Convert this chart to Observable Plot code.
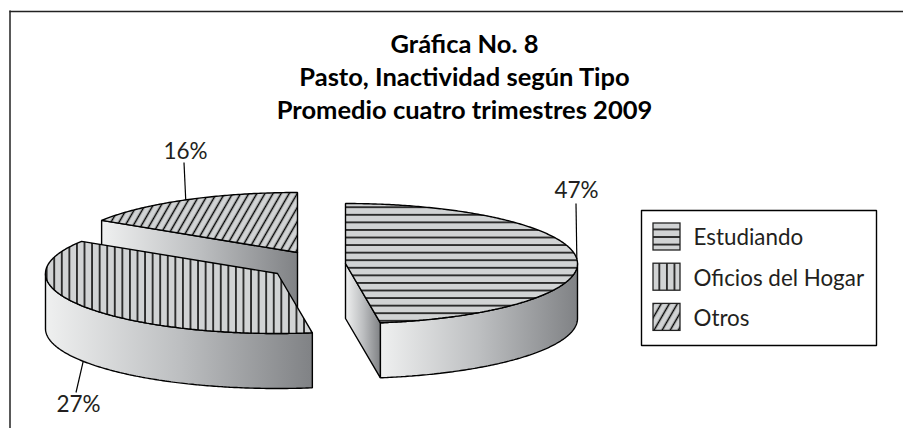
<!DOCTYPE html>
<html lang="es">
<head>
<meta charset="utf-8">
<style>html,body{margin:0;padding:0;background:#fff}svg{display:block}</style>
<script src="https://cdn.jsdelivr.net/npm/d3@7"></script>
<script src="https://cdn.jsdelivr.net/npm/@observablehq/plot@0.6"></script>
</head>
<body>
<div id="chart"></div>
<script>
// Data
const titleLines = ["Gráfica No. 8", "Pasto, Inactividad según Tipo", "Promedio cuatro trimestres 2009"];
const categories = ["Estudiando", "Oficios del Hogar", "Otros"];
const printedLabels = ["47%", "27%", "16%"];     // as printed on the chart
const sliceShares = [47.6, 36.4, 16];            // share drawn (angles)

// Layout
const W = 903, H = 429;
const rx = 232, ry = 60, depth = 55;
const centers = [[345, 263], [277, 273], [297, 252]];
const patterns = ["url(#hatchH)", "url(#hatchV)", "url(#hatchD)"];
const leaderEnds = [[575.5, 203], [75.5, 392], [183.5, 162]];
const labelPos = [[576, 197.5], [78, 411.5], [185, 158.5]];
const ink = "#231f20";
const font = "Lato, 'Noto Sans', sans-serif";

const arcs = d3.pie().sort(null).value(d => d)(sliceShares);
const pt = (i, a, dz = 0) => [centers[i][0] + rx * Math.sin(a), centers[i][1] - ry * Math.cos(a) + dz];
const arcPts = (i, a0, a1, dz = 0) => {
  const n = Math.max(2, Math.ceil(Math.abs(a1 - a0) / 0.01));
  return d3.range(n + 1).map(k => pt(i, a0 + (a1 - a0) * k / n, dz));
};
const closeRing = p => [...p, p[0]];

const topFace = i => closeRing([centers[i], ...arcPts(i, arcs[i].startAngle, arcs[i].endAngle)]);
const extrude = p => closeRing([...p, ...p.slice().reverse().map(([x, y]) => [x, y + depth])]);
// visible walls
const outerWall = (i, a0, a1) => extrude(arcPts(i, a0, a1));
const cutWall = (i, a) => extrude([centers[i], pt(i, a)]);

const poly = (points, fill) => Plot.line(points, {
  x: d => d[0], y: d => d[1], fill, stroke: "#000", strokeWidth: 1.4,
  curve: "linear", strokeLinejoin: "miter"
});

const walls = [
  [outerWall(0, Math.PI / 2, arcs[0].endAngle), cutWall(0, arcs[0].endAngle)],
  [outerWall(1, arcs[1].startAngle, 3 * Math.PI / 2)],
  [cutWall(2, arcs[2].startAngle)]
];

const sliceMarks = i => [...walls[i].map(w => poly(w, "url(#wall)")), poly(topFace(i), patterns[i])];

// leaders start at the mid-angle of each slice (lower edge for the front one)
const leaderStart = i => {
  const mid = (arcs[i].startAngle + arcs[i].endAngle) / 2;
  return pt(i, mid, Math.cos(mid) < 0 ? depth : 0);
};
const idx = d3.range(categories.length);

const defs = () => {
  const s = d3.create("svg:defs");
  const g = s.append("linearGradient").attr("id", "wall").attr("x1", 0).attr("x2", 1).attr("y1", 0).attr("y2", 0);
  g.append("stop").attr("offset", 0).attr("stop-color", "#eff0f0");
  g.append("stop").attr("offset", 0.5).attr("stop-color", "#bdbfc1");
  g.append("stop").attr("offset", 1).attr("stop-color", "#808285");
  const hatch = (id, transform, size) => {
    const p = s.append("pattern").attr("id", id).attr("patternUnits", "userSpaceOnUse")
      .attr("width", size).attr("height", size).attr("patternTransform", transform);
    p.append("rect").attr("width", size).attr("height", size).attr("fill", "#d1d3d4");
    p.append("line").attr("x1", size / 2).attr("x2", size / 2).attr("y1", 0).attr("y2", size)
      .attr("stroke", "#000").attr("stroke-width", 1.5);
  };
  hatch("hatchH", "translate(0,214.3) rotate(90) translate(-3.785,0)", 7.57);
  hatch("hatchV", "translate(84,0) translate(-3.785,0)", 7.57);
  hatch("hatchD", "rotate(30)", 7);
  return s.node();
};

const legendBox = [[641, 210], [876, 210], [876, 345], [641, 345], [641, 210]];
const swatchY = i => 223 + i * 40.2;

const chart = Plot.plot({
  width: W, height: H, margin: 0,
  x: {domain: [0, W], range: [0, W], axis: null},
  y: {domain: [0, H], range: [0, H], axis: null},
  style: {background: "#fff", fontFamily: font},
  marks: [
    defs,
    // frame
    Plot.ruleX([9.5], {y1: 10.5, y2: 428, stroke: "#222", strokeWidth: 1.5}),
    Plot.ruleY([11], {x1: 9.5, x2: W, stroke: "#222", strokeWidth: 1.5}),
    // title
    Plot.text(titleLines, {
      x: () => 464, y: (d, i) => 52.5 + i * 33, text: d => d,
      fontSize: 25.5, fontWeight: 700, fill: "#000", textAnchor: "middle", lineAnchor: "bottom"
    }),
    // slices, back to front
    ...sliceMarks(2), ...sliceMarks(1), ...sliceMarks(0),
    // leaders
    Plot.link(idx, {
      x1: i => leaderStart(i)[0], y1: i => leaderStart(i)[1],
      x2: i => leaderEnds[i][0], y2: i => leaderEnds[i][1],
      stroke: "#000", strokeWidth: 1.2
    }),
    Plot.text(idx, {
      x: i => labelPos[i][0], y: i => labelPos[i][1], text: i => printedLabels[i],
      fontSize: 22.5, fill: ink, textAnchor: "middle", lineAnchor: "bottom"
    }),
    // legend
    poly(legendBox, "#fff"),
    ...idx.map(i => Plot.rect([i], {
      x1: () => 653, x2: () => 680, y1: d => swatchY(d), y2: d => swatchY(d) + 27,
      fill: patterns[i], stroke: "#222", strokeWidth: 1.3
    })),
    Plot.text(idx, {
      x: () => 693, y: i => 244.5 + i * 40.5, text: i => categories[i],
      fontSize: 22.4, fill: ink, textAnchor: "start", lineAnchor: "bottom"
    })
  ]
});
document.getElementById("chart").append(chart);
</script>
</body>
</html>
